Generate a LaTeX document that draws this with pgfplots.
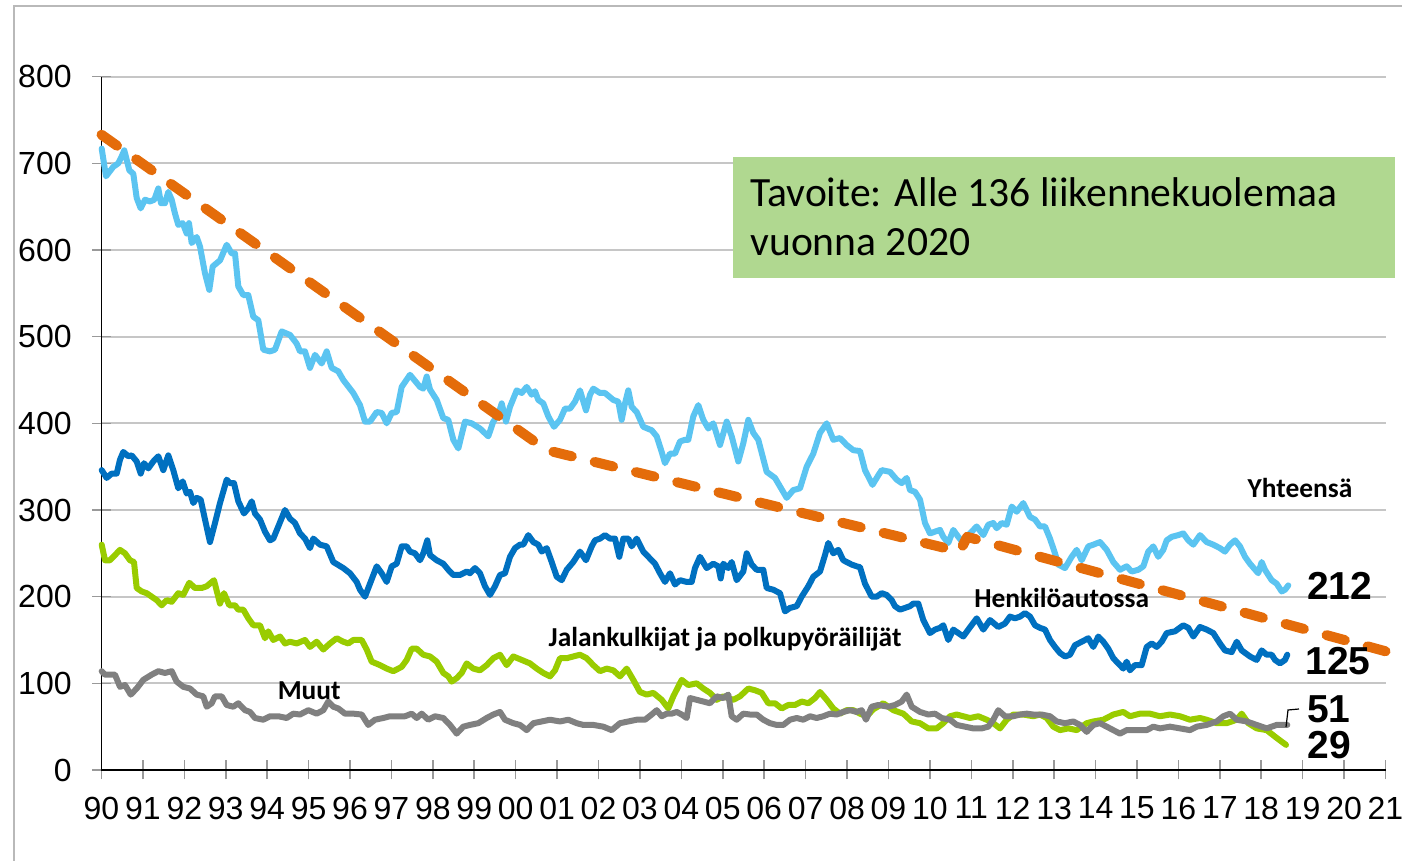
\documentclass[border=0pt]{standalone}
\usepackage{fontspec}
\setmainfont{Liberation Sans}
\newfontfamily\calibri{Carlito}
\usepackage{pgfplots}
\usepackage{pgfplotstable}
\pgfplotsset{compat=1.18}
\definecolor{cLight}{RGB}{91,196,241}
\definecolor{cDark}{RGB}{0,112,192}
\definecolor{cGreen}{RGB}{153,204,0}
\definecolor{cGrey}{RGB}{128,128,128}
\definecolor{cOrange}{RGB}{228,108,10}
\definecolor{cBox}{RGB}{176,216,144}

% x values are pixel positions of the reference (90 = 101.5, one year = 41.42)
\pgfplotstableread[row sep=\\]{
px v\\
101.7 717\\ 106 685\\ 113.3 696\\ 118.3 700\\ 121.7 708\\ 124.3 715\\ 129.3 692\\ 133.3 688\\ 136.7 660\\ 140.7 648\\
145 658\\ 150 656\\ 154.3 658\\ 158.3 671\\ 161 654\\ 165 654\\ 168.3 667\\ 171.7 658\\ 175 642\\ 178.3 629\\
182.7 631\\ 186.7 619\\ 189 631\\ 191.7 608\\ 196.7 615\\ 200 604\\ 205 573\\ 209.3 554\\ 212.7 581\\ 220 588\\
226.7 606\\ 231.7 596\\ 235 596\\ 238.3 558\\ 243.3 548\\ 248.3 548\\ 253.3 523\\ 258.3 519\\ 263.3 485\\ 270 483\\
275 485\\ 281.7 506\\ 290 502\\ 296.7 492\\ 300 483\\ 305 483\\ 310 464\\ 315 479\\ 321.7 469\\ 326.7 483\\
331.7 464\\ 338.3 460\\ 343.3 450\\ 353.3 435\\ 360 421\\ 365 402\\ 370 402\\ 376.7 413\\ 381.7 412\\ 386.7 400\\
391.7 412\\ 396.7 413\\ 401.7 442\\ 410 456\\ 420 442\\ 423.3 440\\ 426.7 454\\ 430 439\\ 436.7 427\\ 443.3 406\\
448.3 404\\ 453.3 381\\ 458.3 371\\ 465 402\\ 471.7 400\\ 480 394\\ 488.3 385\\ 493.3 402\\ 498.3 410\\ 501.7 423\\
506 402\\ 510 419\\ 516.7 438\\ 521.7 435\\ 526.7 442\\ 531.7 433\\ 535 437\\ 538.3 427\\ 543.3 423\\ 548.3 408\\
554 396\\ 560 404\\ 565 417\\ 570 417\\ 575 425\\ 580 438\\ 586 415\\ 590 433\\ 593.3 440\\ 600 435\\
605 435\\ 613.3 427\\ 618.3 425\\ 621.7 404\\ 625 423\\ 628.3 438\\ 631.7 419\\ 636.7 413\\ 643.3 396\\ 651.7 392\\
656.7 385\\ 661.7 367\\ 665 354\\ 670 365\\ 675 365\\ 680 379\\ 685 381\\ 688.3 381\\ 693.3 408\\ 698.3 421\\
703.3 404\\ 708.3 394\\ 713.3 400\\ 720 375\\ 726.7 402\\ 731.7 385\\ 738.3 356\\ 743.3 377\\ 748.3 404\\ 753.3 389\\
758.3 381\\ 766.7 344\\ 775 337\\ 786.7 314\\ 793.3 323\\ 800 325\\ 806.7 350\\ 813.3 365\\ 820 389\\ 826.7 400\\
833.3 381\\ 840 383\\ 846.7 375\\ 853.3 369\\ 860 368\\ 865 346\\ 872.5 329\\ 878.3 340\\ 881.7 346\\ 890 344\\
896.7 335\\ 901.7 331\\ 906.7 337\\ 910 323\\ 915 321\\ 920 312\\ 925 285\\ 930 273\\ 935 275\\ 940 277\\
943.3 269\\ 948.3 262\\ 953.3 277\\ 958.3 269\\ 963.3 262\\ 968.3 271\\ 976.7 281\\ 983.3 271\\ 988.3 283\\ 993.3 285\\
996.7 279\\ 1001.7 285\\ 1006.7 283\\ 1011.7 304\\ 1016.7 298\\ 1023.3 308\\ 1030 292\\ 1035 289\\ 1040 281\\ 1045 281\\
1050 267\\ 1055 250\\ 1058.3 237\\ 1065 233\\ 1071.7 246\\ 1076.7 254\\ 1081.7 242\\ 1088.3 258\\ 1093.3 260\\ 1100 263\\
1106.7 254\\ 1113.3 240\\ 1120 231\\ 1126.7 235\\ 1131.7 229\\ 1138.3 231\\ 1143.3 235\\ 1148.3 252\\ 1153.3 258\\ 1158.3 246\\
1163.3 254\\ 1166.7 265\\ 1171.7 269\\ 1178.3 271\\ 1183.3 273\\ 1188.3 265\\ 1193.3 260\\ 1200 271\\ 1206.7 263\\ 1213.3 260\\
1220 256\\ 1225 252\\ 1230 260\\ 1235 265\\ 1240 258\\ 1245 246\\ 1250 238\\ 1258.3 227\\ 1261.7 240\\ 1265 231\\
1271.7 219\\ 1276.7 215\\ 1281.7 206\\ 1285 208\\ 1288.3 213\\
}\tblYht

\pgfplotstableread[row sep=\\]{
px v\\
101.7 346\\ 106.7 337\\ 111.7 342\\ 116.7 342\\ 120 358\\ 123.3 367\\ 128.3 362\\ 131.7 363\\ 136.7 356\\ 140.7 342\\
144 354\\ 148.3 348\\ 153.3 356\\ 158.3 362\\ 163.3 346\\ 168.3 363\\ 173.3 346\\ 178.3 325\\ 182.7 333\\ 186.7 319\\
190 321\\ 193.3 308\\ 196.7 314\\ 200.7 312\\ 205 289\\ 210 263\\ 215 285\\ 220 308\\ 226.7 335\\ 230 331\\
234 331\\ 238.3 310\\ 244 296\\ 248.3 302\\ 251.7 310\\ 255 296\\ 260 289\\ 265 275\\ 270 265\\ 273.3 267\\
278.3 281\\ 285 300\\ 290 290\\ 295 285\\ 300 273\\ 305 267\\ 310 256\\ 313.3 267\\ 320 260\\ 326.7 258\\
333.3 240\\ 343.3 233\\ 350 227\\ 356.7 217\\ 360 208\\ 365 200\\ 370 215\\ 376.7 235\\ 381.7 227\\ 386.7 217\\
391.7 235\\ 396.7 238\\ 401.7 258\\ 406.7 258\\ 410 252\\ 415 250\\ 420 242\\ 423.3 250\\ 427.3 265\\ 430 248\\
436.7 242\\ 443.3 238\\ 448.3 231\\ 453.3 225\\ 460 225\\ 466.7 229\\ 470 227\\ 475 233\\ 480 227\\ 485 212\\
490 202\\ 495 212\\ 500 225\\ 505 227\\ 510 246\\ 515 256\\ 520 260\\ 523.3 260\\ 528.3 271\\ 533.3 263\\
538.3 260\\ 541.7 252\\ 546.7 256\\ 551.7 240\\ 556.7 223\\ 561.7 219\\ 566.7 231\\ 573.3 240\\ 580 252\\ 586 242\\
591.7 258\\ 595 265\\ 600 267\\ 605 271\\ 610 267\\ 615 267\\ 619.3 246\\ 623.3 267\\ 628.3 267\\ 631.7 258\\
636.7 267\\ 643.3 252\\ 650 244\\ 655 238\\ 660 227\\ 665 217\\ 670 227\\ 675 214\\ 680 219\\ 686.7 217\\
691.7 217\\ 695 233\\ 700 246\\ 706.7 233\\ 713.3 238\\ 718.3 235\\ 720.7 221\\ 723.3 238\\ 728.3 233\\ 731.7 240\\
736.7 219\\ 743.3 229\\ 746.7 250\\ 751.7 237\\ 756.7 231\\ 763.3 231\\ 766.7 210\\ 773.3 208\\ 780 204\\ 785 183\\
790 187\\ 796.7 189\\ 801.7 200\\ 808.3 212\\ 813.3 223\\ 820 229\\ 825 248\\ 828.3 262\\ 833.3 250\\ 838.3 254\\
843.3 242\\ 851.7 237\\ 856.7 235\\ 860 234\\ 865 215\\ 871.7 200\\ 876.7 200\\ 881.7 204\\ 886.7 202\\ 891.7 196\\
895 189\\ 900 185\\ 905 187\\ 910 189\\ 913.3 192\\ 918.3 192\\ 923.3 173\\ 930 158\\ 935 162\\ 940 164\\
943.3 167\\ 948.3 150\\ 953.3 162\\ 958.3 158\\ 963.3 154\\ 968.3 162\\ 976.7 175\\ 983.3 162\\ 990 173\\ 998.3 165\\
1005 169\\ 1010 177\\ 1015 175\\ 1020 177\\ 1025 181\\ 1030 177\\ 1035 167\\ 1040 164\\ 1045 162\\ 1050 150\\
1055 142\\ 1060 135\\ 1065 131\\ 1070 133\\ 1075 144\\ 1081.7 148\\ 1088.3 152\\ 1093.3 142\\ 1098.3 154\\ 1103.3 148\\
1108.3 140\\ 1113.3 129\\ 1118.3 123\\ 1123.3 117\\ 1126.7 125\\ 1130 115\\ 1135 121\\ 1141.7 121\\ 1146.7 142\\ 1151.7 146\\
1156.7 142\\ 1161.7 148\\ 1166.7 158\\ 1175 160\\ 1183.3 167\\ 1188.3 164\\ 1193.3 154\\ 1200 165\\ 1206.7 162\\ 1213.3 158\\
1220 146\\ 1225 138\\ 1231.7 136\\ 1236.7 148\\ 1241.7 138\\ 1250 131\\ 1256.7 127\\ 1261.7 138\\ 1266.7 133\\ 1271.7 133\\
1275 127\\ 1280 123\\ 1285 127\\ 1287.3 133\\
}\tblHenk

\pgfplotstableread[row sep=\\]{
px v\\
101.7 260\\ 105 242\\ 110 242\\ 115 248\\ 120 254\\ 125 250\\ 130 242\\ 134 240\\ 136.7 210\\ 141.7 206\\
146.7 204\\ 151.7 200\\ 156.7 196\\ 161.7 190\\ 166.7 196\\ 171.7 194\\ 178.3 204\\ 183.3 202\\ 189.3 216\\ 195 210\\
201.7 210\\ 206.7 212\\ 214 219\\ 220 192\\ 224 204\\ 229.3 190\\ 235 190\\ 238.3 185\\ 243.3 185\\ 248.3 175\\
253.3 167\\ 260 167\\ 265 152\\ 268.3 160\\ 273.3 150\\ 280 154\\ 285 146\\ 290 148\\ 296.7 146\\ 305 150\\
310 142\\ 316.7 148\\ 323.3 139\\ 330 146\\ 336.7 152\\ 343.3 148\\ 348.3 146\\ 353.3 150\\ 361.7 150\\ 366.7 139\\
371.7 125\\ 380 121\\ 386.7 117\\ 393.3 114\\ 401.7 119\\ 406.7 127\\ 411.7 140\\ 416.7 140\\ 423.3 133\\ 430 131\\
436.7 125\\ 443.3 112\\ 448.3 108\\ 451.7 102\\ 456.7 106\\ 461.7 112\\ 466.7 123\\ 473.3 117\\ 480 115\\ 486.7 121\\
493.3 129\\ 500 133\\ 506.7 121\\ 513.3 131\\ 521.7 127\\ 530 123\\ 536.7 117\\ 543.3 112\\ 550 108\\ 555 115\\
560 129\\ 566.7 129\\ 573.3 131\\ 580 133\\ 586.7 129\\ 593.3 121\\ 600 114\\ 606.7 117\\ 613.3 115\\ 620 108\\
626.7 117\\ 633.3 104\\ 640 90\\ 646.7 87\\ 653.3 89\\ 661.7 81\\ 668.3 71\\ 673.3 85\\ 681.7 104\\ 688.3 98\\
696.7 100\\ 703.3 94\\ 710 89\\ 716.7 81\\ 723.3 85\\ 733.3 81\\ 740 85\\ 748.3 94\\ 755 92\\ 761.7 89\\
768.3 77\\ 775 77\\ 781.7 71\\ 788.3 75\\ 795 75\\ 801.7 79\\ 808.3 77\\ 815 83\\ 820 90\\ 826.7 81\\
833.3 71\\ 840 65\\ 846.7 69\\ 853.3 69\\ 860 65\\ 866.7 62\\ 873.3 70\\ 883.3 77\\ 893.3 69\\ 903.3 65\\
911.7 56\\ 920 54\\ 928.3 48\\ 936.7 48\\ 943.3 54\\ 950 62\\ 956.7 64\\ 963.3 62\\ 970 60\\ 978.3 62\\
986.7 58\\ 993.3 54\\ 1000 48\\ 1006.7 58\\ 1013.3 64\\ 1023.3 64\\ 1033.3 62\\ 1040 64\\ 1046.7 60\\ 1053.3 50\\
1060 46\\ 1068.3 48\\ 1076.7 46\\ 1086.7 54\\ 1093.3 56\\ 1103.3 58\\ 1113.3 64\\ 1123.3 67\\ 1130 62\\ 1140 65\\
1150 65\\ 1160 62\\ 1170 64\\ 1180 62\\ 1190 58\\ 1200 60\\ 1206.7 58\\ 1216.7 54\\ 1226.7 54\\ 1236.7 58\\
1241.7 65\\ 1248.3 54\\ 1256.7 48\\ 1266.7 46\\ 1276.7 37\\ 1286 29\\
}\tblJal

\pgfplotstableread[row sep=\\]{
px v\\
101.7 114\\ 105 110\\ 110 110\\ 115 110\\ 120 96\\ 125 98\\ 130.7 87\\ 136.7 94\\ 143.3 104\\ 151.7 110\\
158.3 114\\ 165 112\\ 171.7 114\\ 176.7 102\\ 183.3 96\\ 190 94\\ 196.7 87\\ 203.3 85\\ 206.7 73\\ 211.7 77\\
215 85\\ 221.7 85\\ 226.7 75\\ 233.3 73\\ 238.3 77\\ 245 69\\ 250 67\\ 255 60\\ 263.3 58\\ 270 62\\
278.3 62\\ 286.7 60\\ 293.3 65\\ 300 64\\ 308.3 69\\ 316.7 65\\ 323.3 69\\ 328.3 79\\ 333.3 73\\ 338.3 71\\
345 65\\ 353.3 65\\ 361.7 64\\ 368.3 52\\ 375 58\\ 383.3 60\\ 390 62\\ 396.7 62\\ 405 62\\ 411.7 65\\
416.7 60\\ 421.7 65\\ 428.3 58\\ 435 62\\ 443.3 60\\ 450 52\\ 456.7 42\\ 463.3 50\\ 470 52\\ 478.3 54\\
486.7 60\\ 493.3 64\\ 500 67\\ 505 58\\ 513.3 54\\ 520 52\\ 526.7 46\\ 533.3 54\\ 541.7 56\\ 550 58\\
560 56\\ 568.3 58\\ 576.7 54\\ 583.3 52\\ 593.3 52\\ 603.3 50\\ 611.7 46\\ 620 54\\ 628.3 56\\ 636.7 58\\
645 58\\ 651.7 64\\ 656.7 69\\ 661.7 62\\ 666.7 65\\ 671.7 65\\ 676.7 67\\ 681.7 64\\ 686.7 60\\ 690 83\\
696.7 81\\ 703.3 79\\ 710 77\\ 716.7 85\\ 723.3 83\\ 728.3 87\\ 731.7 62\\ 736.7 58\\ 743.3 65\\ 750 64\\
756.7 64\\ 763.3 58\\ 770 54\\ 776.7 52\\ 783.3 52\\ 790 58\\ 796.7 60\\ 803.3 58\\ 810 62\\ 816.7 60\\
823.3 62\\ 830 65\\ 836.7 64\\ 843.3 67\\ 850 69\\ 856.7 67\\ 861.7 69\\ 866 58\\ 871.7 73\\ 878.3 75\\
888.3 73\\ 895 75\\ 901.7 79\\ 906.7 87\\ 911.7 73\\ 920 67\\ 928.3 64\\ 935 65\\ 941.7 60\\ 950 58\\
956.7 52\\ 965 50\\ 973.3 48\\ 981.7 48\\ 988.3 50\\ 993.3 58\\ 998.3 69\\ 1005 62\\ 1013.3 62\\ 1020 64\\
1026.7 65\\ 1033.3 64\\ 1041.7 64\\ 1050 62\\ 1056.7 56\\ 1065 54\\ 1073.3 56\\ 1080 52\\ 1086.7 44\\ 1093.3 52\\
1100 54\\ 1106.7 50\\ 1113.3 46\\ 1120 42\\ 1126.7 46\\ 1136.7 46\\ 1146.7 46\\ 1153.3 50\\ 1160 48\\ 1170 50\\
1180 48\\ 1190 46\\ 1196.7 50\\ 1206.7 52\\ 1216.7 56\\ 1223.3 62\\ 1230 65\\ 1236.7 58\\ 1246.7 56\\ 1256.7 52\\
1266.7 48\\ 1276.7 52\\ 1287.3 52\\
}\tblMuut

\begin{document}
\begin{tikzpicture}
\useasboundingbox (0,0) rectangle (701pt,430.5pt);
\draw[gray!55, line width=1pt] (7.15pt,0) -- (7.15pt,427.5pt) -- (701pt,427.5pt);
\begin{axis}[
  at={(50.75pt,45.5pt)}, anchor=south west,
  scale only axis, width=642pt, height=346.67pt,
  xmin=1990, xmax=2021, ymin=0, ymax=800,
  clip=false,
  axis x line=bottom, axis y line=left,
  axis line style={-, black, line width=0.75pt},
  xtick={1990,1991,...,2021},
  xticklabels={90,91,92,93,94,95,96,97,98,99,00,01,02,03,04,05,06,07,08,09,10,11,12,13,14,15,16,17,18,19,20,21},
  ytick={0,100,...,800},
  yticklabels={0,100,200,300,400,500,600,700,800},
  tick align=center, major tick length=9.5pt,
  tick style={gray!80, line width=0.8pt},
  ymajorgrids, grid style={gray!45, line width=1pt},
  ticklabel style={font=\fontsize{16}{18}\selectfont, inner sep=0pt},
  xticklabel style={anchor=north, yshift=-8.5pt},
  yticklabel style={anchor=east, xshift=-10pt},
  every axis plot/.append style={line width=3pt, line join=round, line cap=round},
]
\addplot[cLight] table[x expr={1990+(\thisrowno{0}-101.5)/41.4194}, y index=1] {\tblYht};
\addplot[cDark] table[x expr={1990+(\thisrowno{0}-101.5)/41.4194}, y index=1] {\tblHenk};
\addplot[cGreen] table[x expr={1990+(\thisrowno{0}-101.5)/41.4194}, y index=1] {\tblJal};
\addplot[cGrey] table[x expr={1990+(\thisrowno{0}-101.5)/41.4194}, y index=1] {\tblMuut};
\addplot[cOrange, line width=5pt, line cap=round, dash pattern=on 9.5pt off 11.75pt] coordinates {
  (1990,733) (2000.75,369) (2010.72,252) (2010.9,269) (2021,137)};
\end{axis}
% target box
\fill[cBox] (366.5pt,291.5pt) rectangle (697.5pt,352pt);
\node[anchor=base west, inner sep=0pt, font=\calibri\fontsize{20.8}{25}\selectfont] at (375pt,327pt) {Tavoite: Alle 136 liikennekuolemaa};
\node[anchor=base west, inner sep=0pt, font=\calibri\fontsize{20.8}{25}\selectfont] at (375pt,302.5pt) {vuonna 2020};
% series labels
\begin{scope}[every node/.style={anchor=base, inner sep=0pt, font=\calibri\bfseries\fontsize{13.7}{16}\selectfont}]
\node at (650pt,181.5pt) {Yhteensä};
\node at (530.8pt,126.5pt) {Henkilöautossa};
\node at (362.5pt,107.2pt) {Jalankulkijat ja polkupyöräilijät};
\node at (154.6pt,80.5pt) {Muut};
\end{scope}
\begin{scope}[every node/.style={anchor=base west, inner sep=0pt, font=\bfseries\fontsize{19.5}{22}\selectfont}]
\node at (653.35pt,130.5pt) {212};
\node at (652.5pt,93pt) {125};
\node at (653.35pt,69pt) {51};
\node at (653.5pt,51.35pt) {29};
\end{scope}
\draw[black, line width=0.6pt] (643pt,67pt) -- (644pt,75.5pt) -- (649.5pt,76pt);
\end{tikzpicture}
\end{document}
